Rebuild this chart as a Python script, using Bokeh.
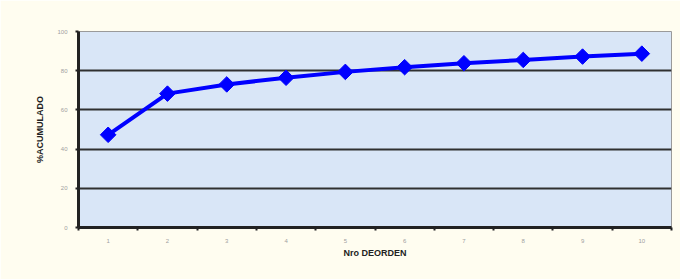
import math
from bokeh.plotting import figure
from bokeh.models import FixedTicker, Range1d
from bokeh.embed import file_html
from bokeh.resources import INLINE

orden = [1, 2, 3, 4, 5, 6, 7, 8, 9, 10]
acumulado = [47.3, 68.3, 73.0, 76.4, 79.4, 81.8, 83.8, 85.5, 87.2, 88.7]
y_ticks = [0, 20, 40, 60, 80, 100]

p = figure(width=680, height=279, output_backend="svg", toolbar_location=None,
           x_range=Range1d(0.5, 10.5), y_range=Range1d(0, 100),
           min_border_left=78, min_border_right=9, min_border_top=31, min_border_bottom=52)
p.background_fill_color = "#d9e6f7"
p.border_fill_color = "#fffdf0"
p.outline_line_color = "#9a9a9a"
p.outline_line_width = 1

p.xgrid.grid_line_color = None
p.ygrid.grid_line_color = "#303030"
p.ygrid.grid_line_width = 2
p.ygrid.ticker = FixedTicker(ticks=y_ticks)

p.xaxis.ticker = FixedTicker(ticks=orden, minor_ticks=[i + 0.5 for i in range(0, 11)])
p.xaxis.major_tick_line_color = None
p.xaxis.minor_tick_line_color = "#222222"
p.xaxis.minor_tick_line_width = 2
p.xaxis.minor_tick_out = 3
p.xaxis.minor_tick_in = 0
p.yaxis.ticker = FixedTicker(ticks=y_ticks)
p.yaxis.minor_tick_line_color = None
p.yaxis.major_tick_line_color = "#222222"
p.yaxis.major_tick_line_width = 2
p.yaxis.major_tick_out = 3
p.yaxis.major_tick_in = 0

for ax in (p.xaxis, p.yaxis):
    ax.axis_line_color = "#222222"
    ax.axis_line_width = 3
    ax.major_label_text_font_size = "6px"
    ax.major_label_text_color = "#a0a0a0"
    ax.major_label_text_font = "Liberation Sans"
    ax.axis_label_text_font = "Liberation Sans"
    ax.axis_label_text_font_style = "bold"
    ax.axis_label_text_font_size = "9px"
    ax.axis_label_text_color = "#222222"

p.xaxis.major_label_standoff = 5
p.yaxis.major_label_standoff = 8
p.xaxis.axis_label = "Nro DEORDEN"
p.xaxis.axis_label_standoff = 2
p.yaxis.axis_label = "%ACUMULADO"
p.yaxis.axis_label_standoff = 9

p.line(orden, acumulado, line_color="#0000ff", line_width=4)
p.scatter(orden, acumulado, marker="square", size=11, angle=math.pi / 4,
          fill_color="#0000ff", line_color="#0000ff")

open("out.html", "w").write(file_html(p, INLINE))
